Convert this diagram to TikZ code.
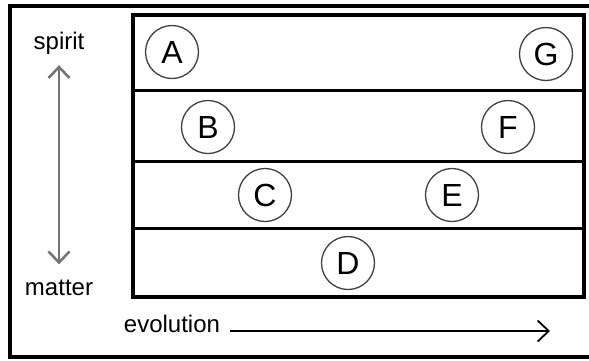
\documentclass[tikz,border=0pt]{standalone}
\usepackage{fontspec}
\setmainfont{Liberation Sans}
\usetikzlibrary{arrows.meta}

\tikzset{
  stage/.style={circle,draw=black!75,line width=1.3pt,minimum size=53pt,inner sep=0pt,font=\fontsize{32}{32}\selectfont},
  lbl/.style={inner sep=0pt,anchor=base,font=\fontsize{24}{24}\selectfont},
  chev/.tip={Straight Barb[length=11pt,width=21pt]}
}

\begin{document}
\begin{tikzpicture}[x=1pt,y=-1pt]
\useasboundingbox (0,0) rectangle (589,360);
\draw [line width=4pt] (589,6) -- (10,6) -- (10,357) -- (589,357);
\draw [line width=4pt] (133,15) rectangle (584,297);
\draw [line width=3pt] (133,90) -- (584,90);
\draw [line width=3pt] (133,161) -- (584,161);
\draw [line width=3pt] (133,228) -- (584,228);

\node[stage] (A) at (172,52) {A};
\node[stage] (G) at (546,54) {G};
\node[stage] (B) at (208,127) {B};
\node[stage] (F) at (508,127) {F};
\node[stage] (C) at (265,195) {C};
\node[stage] (E) at (452,195) {E};
\node[stage] (D) at (348,263) {D};

\node[lbl] (spirit) at (59,49) {spirit};
\node[lbl] (matter) at (59,295) {matter};
\node[lbl] (evolution) at (172,332) {evolution};
\coordinate (evoend) at (550,331);

\draw [black!55,line width=2.5pt,chev-chev,shorten <=11pt,shorten >=15pt] (spirit.south) -- (matter.north);
\draw [line width=1.8pt,-chev,shorten <=10pt] (evolution.east |- evoend) -- (evoend);
\end{tikzpicture}
\end{document}
